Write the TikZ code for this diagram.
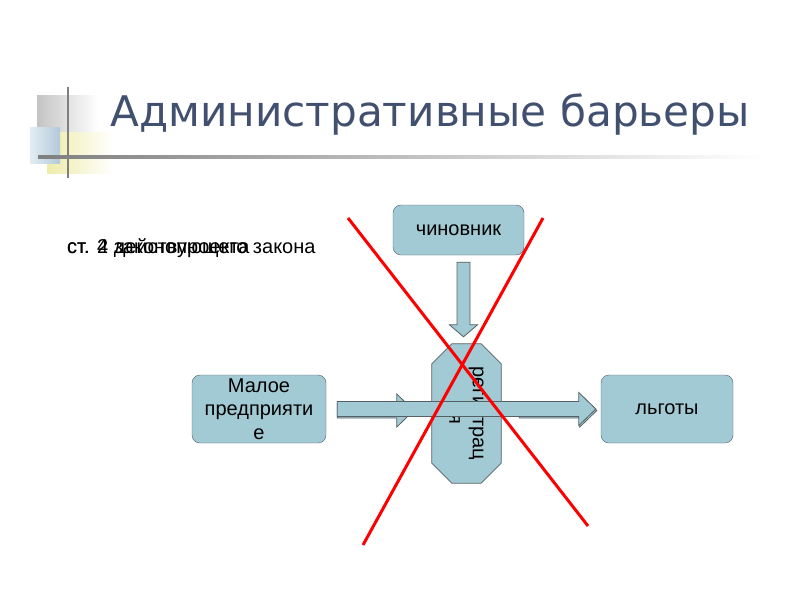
\documentclass[tikz,border=0pt]{standalone}
\usepackage{fontspec}
\setmainfont{Liberation Sans}
\newfontfamily\titlefamily{DejaVu Sans}
\usetikzlibrary{calc,positioning}
\definecolor{titleblue}{RGB}{66,80,112}
\definecolor{boxfill}{RGB}{161,202,212}
\definecolor{boxline}{RGB}{85,95,100}
\definecolor{decogrey}{RGB}{196,196,196}
\definecolor{decoyellow}{RGB}{238,236,170}
\definecolor{decoblue}{RGB}{178,202,218}
\newcommand{\boxfont}{\fontsize{20}{23.5}\selectfont}
\newcommand{\titlefont}{\titlefamily\fontsize{42.2}{50}\selectfont}

\tikzset{
  box/.style={draw=boxline, fill=boxfill, rounded corners=8pt, align=center,
    font=\boxfont, inner sep=1pt, minimum width=132pt, minimum height=68pt},
  regslot/.style={inner sep=0pt, minimum width=69pt, minimum height=139pt},
  octagon/.style={draw=boxline, fill=boxfill, line width=0.8pt},
  blockarrow/.style={draw=boxline, fill=boxfill, line width=0.8pt, line join=miter},
  cross/.style={red, line width=3pt},
}

% horizontal block arrow between two named points
\newcommand{\blockright}[2]{%
\draw[blockarrow] let \p1=(#1), \p2=(#2) in
  (\x1,\y1+7.5pt) -- (\x2-17pt,\y1+7.5pt) -- (\x2-17pt,\y1+16.5pt) -- (\x2,\y1)
  -- (\x2-17pt,\y1-16.5pt) -- (\x2-17pt,\y1-7.5pt) -- (\x1,\y1-7.5pt) -- cycle;}
% vertical block arrow, pointing down
\newcommand{\blockdown}[2]{%
\draw[blockarrow] let \p1=(#1), \p2=(#2) in
  (\x1-6.5pt,\y1) -- (\x1-6.5pt,\y2+12pt) -- (\x1-14pt,\y2+12pt) -- (\x1,\y2)
  -- (\x1+14pt,\y2+12pt) -- (\x1+6.5pt,\y2+12pt) -- (\x1+6.5pt,\y1) -- cycle;}

\begin{document}
\begin{tikzpicture}[x=1pt, y=-1pt]
\useasboundingbox (0,0) rectangle (800,600);

% corner decoration
\shade[left color=decogrey, right color=white] (37,95) rectangle (98,140);
\shade[left color=decoyellow, middle color=decoyellow, right color=white] (47,132) rectangle (113,173);
\shade[left color=decoblue!35, right color=decoblue] (30,127) rectangle (60,163);
\draw[gray, line width=2pt] (68,87) -- (68,178);
\shade[left color=gray, middle color=gray!80, right color=white] (38,155.5) rectangle (762,158.5);

\node[anchor=base west, inner sep=0pt, font=\titlefont, text=titleblue] (title) at (110,126) {Административные барьеры};

% overlapping captions
\node[anchor=base west, inner sep=0pt, font=\boxfont] (art2) at (67,253) {ст. 2 законопроекта};
\node[anchor=base west, inner sep=0pt, font=\boxfont] (art4) at (67,253) {ст. 4 действующего закона};

\node[box, minimum width=131pt, minimum height=50pt] (clerk) at (458.5,230) {чиновник};
\node[box, minimum width=134pt, text width=120pt] (small) at (259,409) {Малое\\предприяти\\е};
\node[box] (benefits) at (667,409) {льготы};

% octagon with sideways text
\node[regslot] (reg) at (466.5,413.5) {};
\draw[octagon] let \p1=(reg.south west), \p2=(reg.north east) in
  (\x1+20pt,\y1) -- (\x2-20pt,\y1) -- (\x2,\y1+20pt) -- (\x2,\y2-20pt)
  -- (\x2-20pt,\y2) -- (\x1+20pt,\y2) -- (\x1,\y2-20pt) -- (\x1,\y1+20pt) -- cycle;
\node[font=\boxfont, align=center, rotate=-90] (regtext) at (reg.center) {регистрац\\ия};

\coordinate (d1) at ($(clerk.south -| reg.north)+(-3,7)$);
\coordinate (d2) at ($(reg.north)+(-3,-7)$);
\blockdown{d1}{d2}

\coordinate (a1) at ($(small.east)+(11,1.5)$);
\coordinate (a2) at ($(reg.west |- small.east)+(-18,1.5)$);
\coordinate (b1) at ($(reg.east |- small.east)+(18,1.5)$);
\coordinate (b2) at ($(benefits.west)+(-4,1.5)$);
\blockright{a1}{a2}
\blockright{b1}{b2}

\coordinate (l1) at ($(small.east)+(11,0)$);
\coordinate (l2) at ($(benefits.west)+(-5,0)$);
\blockright{l1}{l2}

% crossing out
\draw[cross] (348,218) -- (588,526);
\draw[cross] (543,218) -- (363,545);
\end{tikzpicture}
\end{document}
